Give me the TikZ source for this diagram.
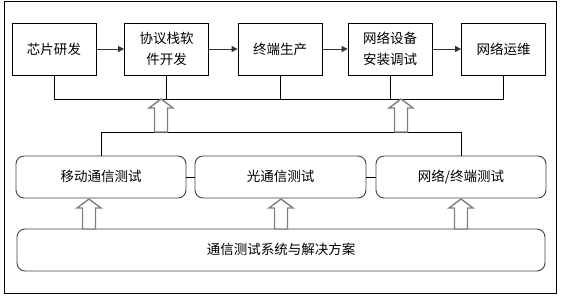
\documentclass[tikz,border=0pt]{standalone}
\usepackage{fontspec}
\newfontfamily\cjk{Noto Sans CJK SC}
\usetikzlibrary{arrows.meta}
\tikzset{
  topbox/.style={draw=black, line width=0.8pt, minimum width=84pt, minimum height=52pt, align=center, inner sep=1pt, font=\cjk\fontsize{13.5}{21}\selectfont},
  midbox/.style={draw=black!75, line width=0.9pt, rounded corners=8pt, minimum width=170pt, minimum height=42pt, font=\cjk\fontsize{13.5}{16}\selectfont},
  flow/.style={draw=black!80, line width=0.8pt, -{Triangle[length=6pt,width=6pt]}},
  link/.style={draw=black, line width=0.7pt},
  hollow/.style={draw=gray, line width=1.4pt, fill=white, line join=miter},
}
\newcommand\hollowup[4]{% x, ytip, ybottom, name
  \draw[hollow] (#1,#2) -- (#1+12,#2+9) -- (#1+6.5,#2+9) -- (#1+6.5,#3) -- (#1-6.5,#3) -- (#1-6.5,#2+9) -- (#1-12,#2+9) -- cycle;
  \coordinate (#4) at (#1,#2);
}
\begin{document}
\begin{tikzpicture}[x=1pt,y=-1pt]
\useasboundingbox (0,0) rectangle (562,297);
\node[draw=black, line width=0.8pt, minimum width=552pt, minimum height=292pt, inner sep=0pt] (frame) at (280,147) {};
% top row
\node[topbox] (b1) at (54,49) {芯片研发};
\node[topbox] (b2) at (166.5,49) {协议栈软\\件开发};
\node[topbox] (b3) at (280,49) {终端生产};
\node[topbox] (b4) at (390,49) {网络设备\\安装调试};
\node[topbox] (b5) at (503.5,49) {网络运维};
\draw[flow] (b1) -- (b2);
\draw[flow] (b2) -- (b3);
\draw[flow] (b3) -- (b4);
\draw[flow] (b4) -- (b5);
% bus under top row
\coordinate (bus) at (0,99);
\draw[link] (b1.south) -- (b1.south |- bus) -- (b5.south |- bus) -- (b5.south);
\draw[link] (b2.south) -- (b2.south |- bus);
\draw[link] (b3.south) -- (b3.south |- bus);
\draw[link] (b4.south) -- (b4.south |- bus);
% middle row
\node[midbox] (m1) at (101,177) {\raisebox{3pt}{移动通信测试}};
\node[midbox, minimum width=171pt] (m2) at (280.5,177) {\raisebox{3pt}{光通信测试}};
\node[midbox] (m3) at (461,177) {\raisebox{3pt}{网络/终端测试}};
\draw[link] (m1) -- (m2);
\draw[link] (m2) -- (m3);
\coordinate (bus2) at (0,132);
\draw[link] (m1.north) -- (m1.north |- bus2) -- (m3.north |- bus2) -- (m3.north);
% bottom box
\node[midbox, minimum width=528pt] (base) at (281,250) {\raisebox{3pt}{通信测试系统与解决方案}};
% hollow arrows
\hollowup{161}{99}{132}{ha1}
\hollowup{401}{99}{132}{ha2}
\hollowup{89}{199}{229}{ha3}
\hollowup{281}{199}{229}{ha4}
\hollowup{461}{199}{229}{ha5}
\end{tikzpicture}
\end{document}
